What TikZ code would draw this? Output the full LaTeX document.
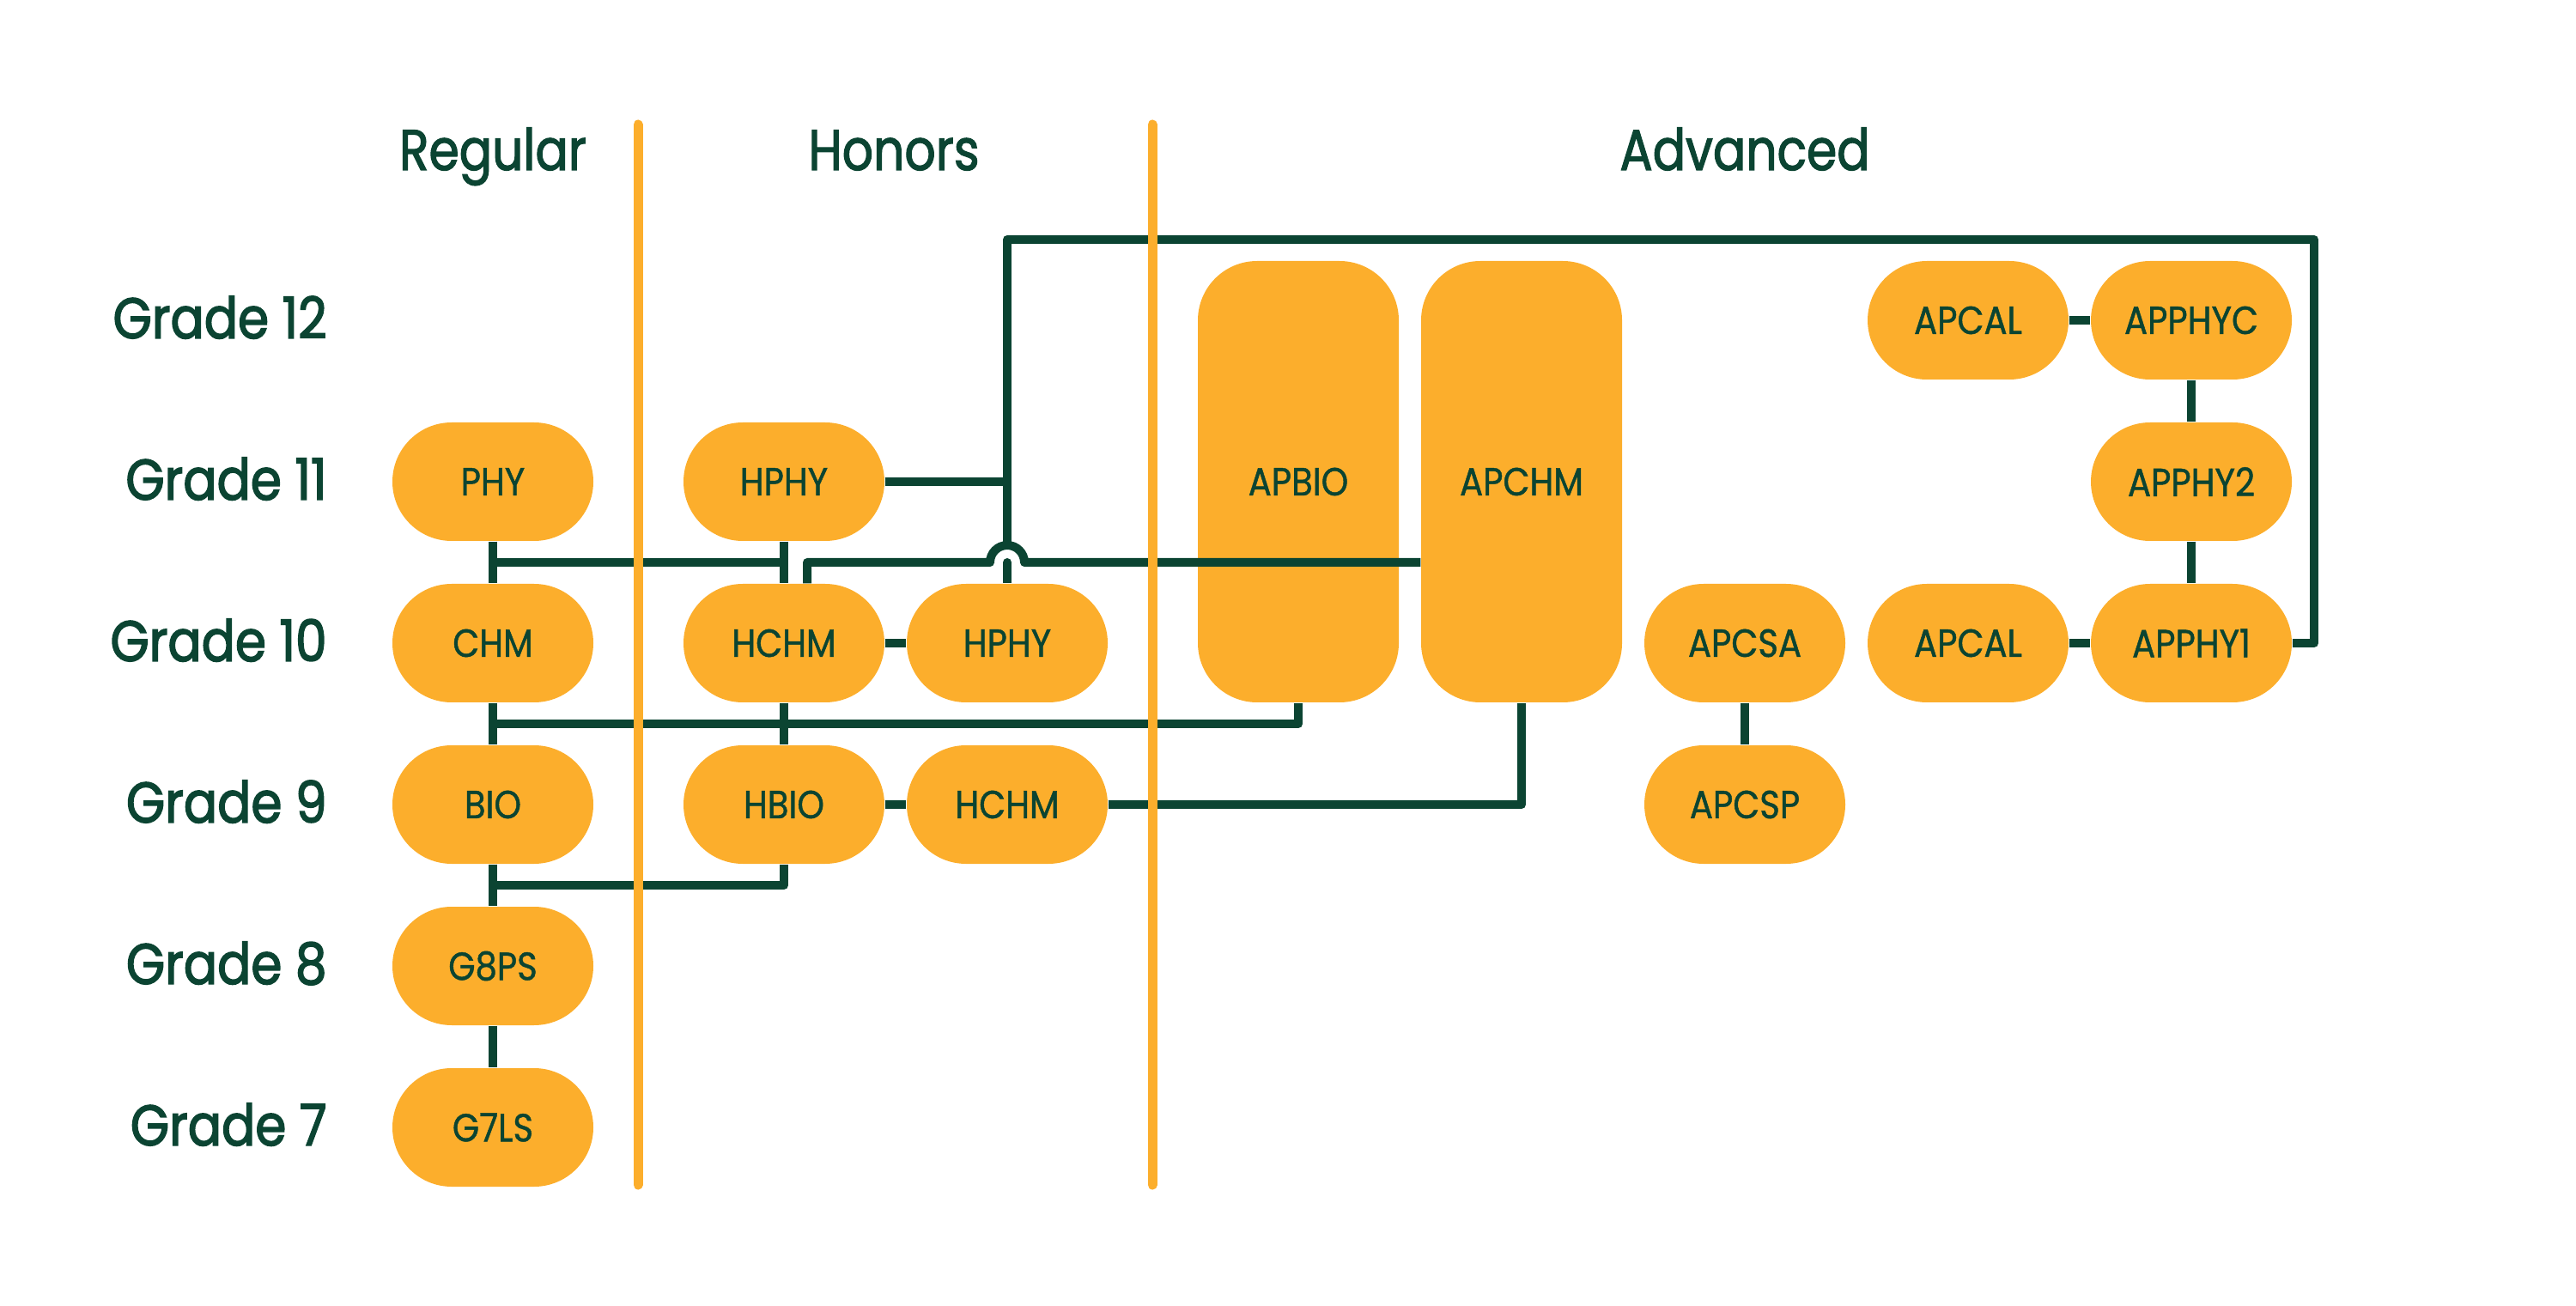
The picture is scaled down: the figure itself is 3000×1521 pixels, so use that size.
\documentclass[tikz,border=0pt]{standalone}
\usepackage{fontspec}
\setmainfont{Poppins}
\newfontfamily\headfont[FakeStretch=0.85, FakeBold=1.8]{Poppins}
\newfontfamily\gradefont[FakeStretch=0.87, FakeBold=2.2]{Poppins}
\newfontfamily\coursefont[FakeStretch=0.88, FakeBold=1]{Poppins}
\usetikzlibrary{calc}
\definecolor{track}{HTML}{FCAE2C}
\definecolor{pine}{HTML}{0B4432}
\tikzset{
  course/.style={fill=track, rounded corners=6.9mm, minimum width=23.4mm, minimum height=13.8mm,
                 inner sep=0pt, text=pine, font=\coursefont\fontsize{13}{13}\selectfont},
  longcourse/.style={course, minimum height=51.4mm},
  link/.style={pine, line width=1mm, line join=round},
  divider/.style={track, line width=1.1mm, line cap=round},
  grade/.style={text=pine, anchor=base east, font=\gradefont\fontsize{19}{19}\selectfont},
  head/.style={text=pine, anchor=base, font=\headfont\fontsize{19}{19}\selectfont},
}

\begin{document}
\begin{tikzpicture}[x=0.1mm, y=-0.1mm]
    \useasboundingbox (0,0) rectangle (3000,1521);

    % column heads and grade rows
    \node[head] (reg) at (574,198) {Regular};
    \node[head] (hon) at (1041,198) {Honors};
    \node[head] (adv) at (2032,198) {Advanced};
    \foreach \g/\y in {12/373, 11/561, 10/749, 9/937, 8/1125, 7/1313}
      \node[grade] (g\g) at (393,\y+21) {Grade \g};

    % courses
    \foreach \n/\x/\y/\t in {phy/574/561/PHY, chm/574/749/CHM, bio/574/937/BIO, gps/574/1125/G8PS,
        gls/574/1313/G7LS, hphyA/913/561/HPHY, hchmA/913/749/HCHM, hphyB/1173/749/HPHY,
        hbio/913/937/HBIO, hchmB/1173/937/HCHM, apcsa/2032/749/APCSA, apcsp/2032/937/APCSP,
        apcalA/2292/373/APCAL, apphyc/2552/373/APPHYC, apphyii/2552/561/APPHY2,
        apcalB/2292/749/APCAL, apphyi/2552/749/APPHY1}
      \node[course] (\n) at (\x,\y) {\t};
    \node[longcourse] (apbio) at (1512,561) {APBIO};
    \node[longcourse] (apchm) at (1772,561) {APCHM};

    % junction points
    \coordinate (mA) at ($(phy.south)!.5!(chm.north)$);
    \coordinate (mB) at ($(chm.south)!.5!(bio.north)$);
    \coordinate (mC) at ($(bio.south)!.5!(gps.north)$);
    \coordinate (hop) at (hphyB.north |- mA);
    \coordinate (ne) at (2695,279);

    % regular and honors links
    \draw[link] (phy) -- (chm) (chm) -- (bio) (bio) -- (gps) (gps) -- (gls);
    \draw[link] (hphyA) -- (hchmA) (hchmA) -- (hbio);
    \draw[link] (hchmA) -- (hphyB) (hbio) -- (hchmB);
    \draw[link] (mA) -- (mA -| hphyA);
    \draw[link] (mB) -| (apbio);
    \draw[link] (mC) -| (hbio);
    \draw[link] (hchmB) -| (apchm);
    \draw[link] ([xshift=2.7mm]hchmA.north) |- ([xshift=-2mm]hop)
      arc[start angle=180, end angle=360, radius=20] -- (hop -| apchm.west);

    % physics loop
    \draw[link] (apphyi) -- (apphyi -| ne) -- (ne) -- (ne -| hop) -- ([yshift=2mm]hop);
    \draw[link] (hphyA) -- (hphyA -| hop);
    \draw[link] (hop) -- (hphyB);
    \fill[pine] (hop) circle[radius=0.5mm];

    % advanced links
    \draw[link] (apcsa) -- (apcsp);
    \draw[link] (apcalA) -- (apphyc) (apphyc) -- (apphyii) (apphyii) -- (apphyi) (apcalB) -- (apphyi);

    % track dividers
    \draw[divider] (743,145) -- (743,1380);
    \draw[divider] (1342,145) -- (1342,1380);
\end{tikzpicture}
\end{document}
